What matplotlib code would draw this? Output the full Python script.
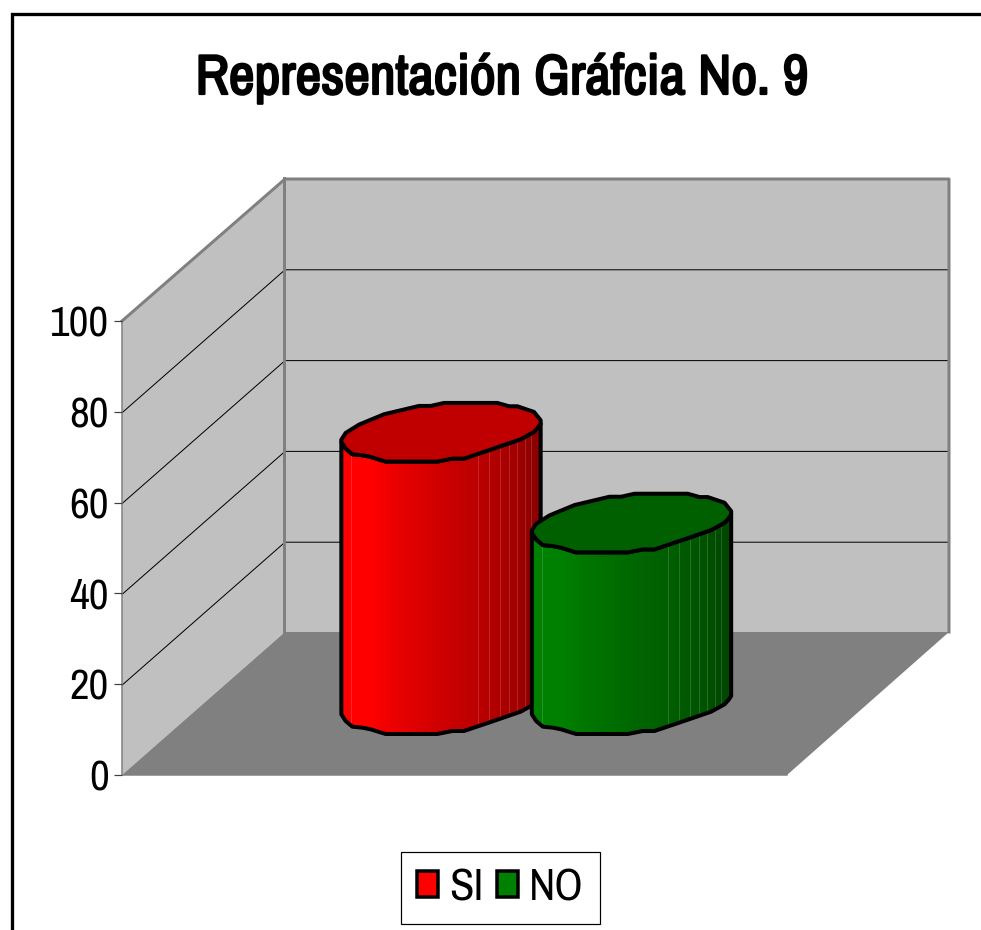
import numpy as np
import matplotlib
matplotlib.use('Agg')
import matplotlib.pyplot as plt
import matplotlib.patheffects as pe
from matplotlib.patches import Polygon, Patch

categories = ['SI', 'NO']
values = [60, 40]
bar_colors = [(255, 0, 0), (0, 128, 0)]
top_colors = ['#c00000', '#006000']
y_ticks = [0, 20, 40, 60, 80, 100]
title = 'Representación Gráfcia No. 9'

W, H = 981, 930

# pseudo 3d box, in pixels
Y0 = 775
Y100 = 321
PX = (Y0 - Y100) / 100
DX, DY = 163, 143
LEFT, RIGHT = 122, 787
CENTERS = [441, 631.5]
FLOOR = 734

# the polygonal ellipse of the cylinder top, from the leftmost point clockwise
ELL = np.array([
    (62, 148), (75, 128), (115, 103), (190, 72), (295, 47), (330, 47), (370, 38),
    (530, 38), (565, 48), (590, 48), (625, 60), (640, 65), (660, 90), (660, 100),
    (652, 112), (640, 125), (600, 147), (510, 178), (430, 205), (395, 205), (350, 214),
    (195, 214), (150, 200), (125, 195), (95, 192), (75, 175), (62, 155),
], dtype=float)
ELL = (ELL - [361, 214]) / 3  # origin at lowest point of the front edge
LOWER = ELL[13:]

SHADE_POS = [0, .15, .27, .4, .565, .68, .74, .8, .88, .95, 1]
SHADE_VAL = [1, 1, .92, .86, .78, .74, .71, .68, .63, .57, .55]
STRIPES = [.05, .685, .74, .795, .84, .88, .92, .95]

plt.rcParams['font.family'] = ['Archivo Narrow', 'Liberation Sans', 'DejaVu Sans']

fig = plt.figure(figsize=(W / 100, H / 100), dpi=100, facecolor='white')
ax = fig.add_axes([0, 0, 1, 1])
ax.set_axis_off()


def lw(px):
    return px * 0.72


def vy(v):
    return Y0 - v * PX


# walls and floor
ax.add_patch(Polygon([(LEFT, Y100), (LEFT + DX, Y100 - DY), (LEFT + DX, Y0 - DY), (LEFT, Y0)],
                     fc='#c0c0c0', ec='none'))
ax.add_patch(Polygon([(LEFT + DX, Y100 - DY), (RIGHT + DX - 1, Y100 - DY), (RIGHT + DX - 1, Y0 - DY), (LEFT + DX, Y0 - DY)],
                     fc='#c0c0c0', ec='none'))
ax.add_patch(Polygon([(LEFT, Y0), (LEFT + DX, Y0 - DY), (RIGHT + DX - 1, Y0 - DY), (RIGHT, Y0)],
                     fc='#808080', ec='none'))

for v in y_ticks[1:-1]:
    ax.plot([LEFT, LEFT + DX, RIGHT + DX - 1], [vy(v) + 1, vy(v) - DY + 1, vy(v) - DY + 1], color='black', lw=lw(1), zorder=2)

ax.plot([LEFT, LEFT + DX, RIGHT + DX - 1, RIGHT + DX - 1], [Y100, Y100 - DY + 1, Y100 - DY + 1, Y0 - DY],
        color='#808080', lw=lw(3), zorder=2)
ax.plot([LEFT + DX - 1, LEFT + DX - 1], [Y100 - DY, Y0 - DY], color='#808080', lw=lw(3), zorder=2)
ax.plot([LEFT, LEFT, RIGHT], [Y100, Y0, Y0], color='#808080', lw=lw(1.5), zorder=2)

# cylinders
for i, (cx, val, col, top) in enumerate(zip(CENTERS, values, bar_colors, top_colors)):
    z = 3 + i
    base = np.array([cx, FLOOR - val * PX])
    upper = LOWER + base
    lower = LOWER[::-1] + [cx, FLOOR]
    body = Polygon(np.vstack([upper, lower]), closed=True, fc='none', ec='none', zorder=z)
    ax.add_patch(body)

    xs = np.linspace(0, 1, 256)
    shade = np.interp(xs, SHADE_POS, SHADE_VAL)
    img = np.outer(shade, col)[None, :, :] / 255
    x0, x1 = cx + ELL[:, 0].min(), cx + ELL[:, 0].max()
    im = ax.imshow(img, extent=(x0, x1, FLOOR + 2, base[1] - 70), aspect='auto', zorder=z,
                   interpolation='bilinear')
    im.set_clip_path(body)
    for s in STRIPES:
        line = ax.plot([x0 + s * (x1 - x0)] * 2, [base[1] - 70, FLOOR], color='white', alpha=.15,
                       lw=lw(1), zorder=z)[0]
        line.set_clip_path(body)

    ax.add_patch(Polygon(np.vstack([upper, lower]), closed=True, fc='none', ec='black', lw=lw(4),
                         joinstyle='round', zorder=z))
    ax.add_patch(Polygon(ELL + base, closed=True, fc=top, ec='black', lw=lw(4),
                         joinstyle='round', zorder=z))

# chart border, cut by the image edges
ax.plot([11.7, 11.7, W + 5], [H + 5, 14.2, 14.2], color='black', lw=lw(3.3), solid_joinstyle='miter', zorder=6)

# the font has no bold cut here, so thicken the title with a stroke
ttl = ax.text(502, 79, title, ha='center', va='center', fontsize=40.5, color='black')
ttl.set_path_effects([pe.withStroke(linewidth=1.6, foreground='black')])

# legend
handles = [Patch(facecolor='#%02x%02x%02x' % c, edgecolor='black', linewidth=lw(3.5)) for c in bar_colors]
leg = ax.legend(handles, categories, loc='center', bbox_to_anchor=(500.5, 888),
                bbox_transform=ax.transData, ncol=2, fontsize=32, frameon=True, fancybox=False,
                edgecolor='black', framealpha=1, handlelength=.47, handleheight=.52,
                handletextpad=.25, columnspacing=.3, borderpad=.36, labelspacing=0, borderaxespad=0)
leg.get_frame().set_linewidth(lw(1.2))
leg.set_zorder(7)

ax.set_xlim(0, W)
ax.set_ylim(H, 0)

# value axis, only for the ticks and their labels
ax_val = fig.add_axes([LEFT / W, (H - Y0) / H, 1 / W, (Y0 - Y100) / H])
ax_val.patch.set_alpha(0)
ax_val.set_ylim(0, 100)
ax_val.set_yticks(y_ticks)
ax_val.set_xticks([])
ax_val.tick_params(axis='y', length=lw(8), width=lw(1.2), color='#404040', labelsize=31, pad=lw(5))
for side in ax_val.spines.values():
    side.set_visible(False)

fig.savefig('out.png', dpi=100)
